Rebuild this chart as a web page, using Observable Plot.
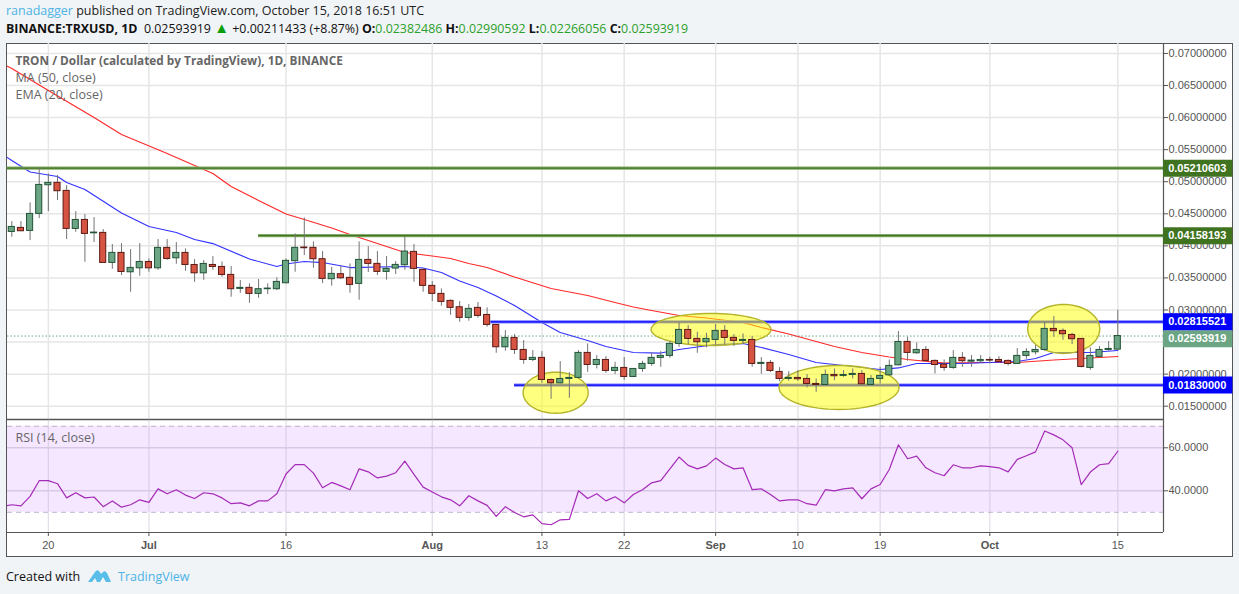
<!DOCTYPE html>
<html><head><meta charset="utf-8">
<script src="https://cdn.jsdelivr.net/npm/d3@7"></script>
<script src="https://cdn.jsdelivr.net/npm/@observablehq/plot@0.6"></script>
<style>
html,body{margin:0;padding:0;background:#f1f4f7;width:1239px;height:594px;overflow:hidden;font-family:"Open Sans",sans-serif;}
.abs{position:absolute;white-space:nowrap;}
#frame{position:absolute;left:6px;top:43px;width:1225px;height:512px;background:#fff;border:1px solid #555;}
#price,#rsi{position:absolute;left:6px;}
#price{top:43px}#rsi{top:419px}
svg{display:block}
b{font-weight:700}
.g{color:#2ca02c}
</style></head><body>
<div id="frame"></div><div id="price"></div><div id="rsi"></div>
<div class="abs" style="left:6px;top:2px;font-size:12.5px;color:#222;"><span style="color:#4bb3e6">ranadagger</span> published on TradingView.com, October 15, 2018 16:51 UTC</div>
<div class="abs" style="left:6px;top:20px;font-size:12.4px;color:#111"><b>BINANCE:TRXUSD, 1D</b>&nbsp; 0.02593919 <span style="color:#0a9f0a;font-size:15px;line-height:0">▲</span> +0.00211433 (+8.87%) <b>O:</b><span class="g">0.02382486</span> <b>H:</b><span class="g">0.02990592</span> <b>L:</b><span class="g">0.02266056</span> <b>C:</b><span class="g">0.02593919</span></div>
<div class="abs" style="left:6px;top:568px;font-size:12.5px;color:#111">Created with</div>
<svg class="abs" style="left:88px;top:568px" width="23" height="15" viewBox="0 0 23 15"><path d="M0 14 L7 4 Q9 1 11 3 L13 6 L15 4 Q17 2 19 5 L23 14 H18 L15 9 L12 14 H9 L7 10 L4 14 Z" fill="#58bde8"/></svg>
<div class="abs" style="left:118px;top:568px;font-size:12.5px;color:#4bb3e6">TradingView</div>
<script>
const startDate = "2018-06-16";
const priceUnit = 1e-5;
const opens = [4217,4280,4233,4498,4945,4982,4857,4264,4404,4196,4202,3734,3890,3588,3650,3749,3650,3968,3806,3890,3702,3572,3702,3671,3547,3329,3345,3251,3324,3324,3417,3761,3974,3969,3792,3480,3558,3501,3407,3781,3719,3594,3646,3698,3906,3625,3376,3251,3142,3043,2877,3033,2923,2767,2419,2565,2377,2221,2253,1909,1857,1925,1941,2331,2143,2221,2050,2097,1956,2081,2159,2253,2284,2471,2689,2549,2497,2533,2674,2565,2518,2533,2159,2175,2034,1925,1941,1925,1847,1831,1987,1972,1987,2003,1831,1925,1982,2138,2502,2325,2377,2206,2149,2097,2253,2195,2201,2221,2221,2206,2159,2284,2341,2377,2705,2674,2611,2549,2097,2268,2377,2382];
const closes = [4295,4228,4498,4950,4982,4852,4264,4404,4186,4207,3734,3890,3593,3656,3749,3650,3968,3796,3890,3702,3572,3718,3671,3546,3324,3345,3251,3324,3334,3438,3766,3969,3963,3792,3485,3563,3495,3391,3781,3719,3594,3641,3703,3911,3641,3376,3251,3126,3033,2877,3017,2908,2767,2419,2565,2377,2221,2253,1909,1857,1925,1941,2331,2143,2221,2050,2097,1956,2081,2159,2253,2284,2471,2689,2549,2497,2549,2674,2565,2518,2533,2159,2175,2050,1925,1941,1920,1847,1831,1987,1967,1987,2003,1842,1925,1972,2128,2502,2331,2377,2206,2143,2097,2253,2201,2211,2221,2211,2190,2159,2284,2346,2377,2705,2669,2622,2544,2112,2284,2377,2393,2594];
const highs = [4378,4378,4670,5216,5122,5096,4940,4534,4488,4441,4254,4020,4035,3942,4035,3796,4098,4098,4051,3952,3786,3770,3832,3749,3677,3459,3407,3475,3407,3501,3797,4187,4437,4062,3911,3662,3683,3719,4062,3989,3911,3833,3755,4145,4021,3641,3443,3329,3157,3131,3085,3116,3033,2767,2679,2617,2523,2367,2351,1925,2195,2024,2367,2471,2289,2273,2185,2258,2081,2201,2331,2351,2513,2799,2757,2653,2637,2773,2757,2617,2627,2585,2258,2211,2102,2039,2055,1993,1925,2065,2081,2055,2081,2055,1977,2107,2221,2663,2575,2487,2429,2221,2221,2367,2336,2289,2289,2263,2273,2221,2398,2398,2445,2804,2897,2705,2637,2549,2409,2429,2507,2996];
const lows = [4134,4220,4082,4425,4534,4706,4098,4212,3744,4051,3734,3635,3536,3276,3526,3588,3619,3775,3713,3604,3432,3463,3619,3510,3199,3261,3105,3183,3241,3303,3407,3589,3849,3651,3412,3371,3475,3261,3152,3584,3537,3464,3553,3620,3433,3277,3131,3059,2918,2809,2825,2871,2731,2325,2357,2305,2154,2195,1857,1608,1847,1623,1925,2029,2081,2013,1993,1904,1951,2029,2123,2107,2247,2419,2461,2325,2409,2461,2450,2429,2461,2107,1998,2024,1883,1889,1889,1785,1717,1826,1899,1951,1925,1837,1821,1847,1977,2128,2201,2310,2185,2003,2045,2076,2107,2107,2170,2159,2170,2128,2149,2232,2299,2357,2575,2528,2461,2097,2060,2253,2357,2378];
const rsiValues = [33.5,33.0,37.4,44.7,44.7,43.3,36.7,39.1,36.7,37.1,32.6,35.3,32.4,33.5,35.8,34.6,40.9,38.6,40.5,38.0,36.4,39.1,38.6,36.7,34.0,34.4,33.0,35.3,35.3,38.6,47.8,52.2,52.2,48.2,41.4,43.9,42.3,40.5,50.2,48.8,46.0,46.8,48.4,53.8,47.6,41.7,39.4,37.2,35.8,33.0,37.7,35.3,33.2,28.1,32.6,29.9,27.9,28.8,24.7,24.2,26.5,26.7,40.0,36.4,38.6,35.3,37.2,34.4,38.3,40.5,43.7,44.7,50.2,55.7,51.8,50.2,51.6,55.2,52.2,50.2,50.7,40.5,40.9,38.3,35.3,35.8,35.8,34.0,33.3,40.5,40.0,40.9,41.4,36.3,40.9,42.9,49.9,61.4,54.9,56.1,50.7,48.4,47.0,52.1,50.7,50.7,51.6,51.2,50.7,48.8,54.6,56.3,58.1,67.8,66.0,63.7,60.0,42.9,48.7,52.1,52.6,58.4];
const rsiBefore = 32.8;
const maSessions = [-1,0,4,9,12,17,22,24,27,30,32,35,37,40,43,46,48,50,52,55,59,63,66,68,70,73,76,80,82,85,90,93,96,98,102,106,110,114,117,121];
const maValues = [6835,6765,6422,6001,5736,5440,5128,4925,4707,4496,4411,4278,4177,4036,3896,3842,3803,3725,3662,3514,3335,3226,3117,3047,2992,2914,2875,2805,2727,2626,2431,2337,2267,2228,2173,2181,2181,2220,2244,2275];
const emaSessions = [-1,0,2,5,6,8,12,15,18,20,22,26,29,30,32,34,37,43,45,47,49,51,53,55,58,60,63,65,68,71,73,77,80,82,85,88,95,97,99,104,110,112,114,118,121];
const emaValues = [5424,5330,5151,5081,4987,4878,4512,4302,4208,4099,4036,3795,3678,3717,3756,3740,3662,3678,3655,3584,3452,3351,3218,3070,2805,2649,2524,2431,2337,2329,2384,2462,2477,2415,2306,2181,2072,2096,2166,2166,2197,2244,2337,2337,2368];
const priceTicks = [0.015,0.02,0.025,0.03,0.035,0.04,0.045,0.05,0.055,0.06,0.065,0.07];
const labelledTicks = [0.015,0.02,0.03,0.035,0.04,0.045,0.05,0.055,0.06,0.065,0.07];
const rsiTicks = [40,60];
const rsiBand = [30,70];
const dayTickDates = ["2018-06-20","2018-07-16","2018-08-13","2018-08-22","2018-09-10","2018-09-19","2018-10-15"];
const dayTickLabels = ["20","16","13","22","10","19","15"];
const monthTickDates = ["2018-07-01","2018-08-01","2018-09-01","2018-10-01"];
const monthTickLabels = ["Jul","Aug","Sep","Oct"];
const levelValues = [0.05210603,0.04158193,0.02815521,0.01830000];
const levelStarts = ["2018-06-15T12:00Z","2018-07-13T00:00Z","2018-08-07T10:00Z","2018-08-10T00:00Z"];
const levelColors = ["#3f7320","#3f7320","#0000ff","#0000ff"];
const levelHalos = ["#86ad68","#86ad68","#7c7cff","#7c7cff"];
const lastPrice = 0.02593919;
const ellipseDates = ["2018-08-14T12:00Z","2018-08-31T12:00Z","2018-09-14T12:00Z","2018-10-09T02:00Z"];
const ellipsePrices = [0.0171,0.02696,0.01792,0.02704];
const ellipseDays = [3.56,6.56,6.56,3.94];
const ellipseSpans = [0.0032,0.0025,0.00343,0.00382];

const DAY = 864e5, H = 36e5;
const sessionDate = i => new Date(+new Date(startDate) + i*DAY);
const xDomain = [new Date("2018-06-15T12:43Z"), new Date("2018-10-20T00:00Z")];
const gutterEnd = new Date(+xDomain[1] + 7.59*DAY);
const gutterMid = new Date(+xDomain[1] + 3.8*DAY);
const FONT = '"Liberation Sans",Arial,sans-serif';
const allTicks = dayTickDates.concat(monthTickDates).map(d=>new Date(d));
const candles = opens.map((o,i)=>({date:sessionDate(i),open:o*priceUnit,close:closes[i]*priceUnit,high:highs[i]*priceUnit,low:lows[i]*priceUnit,up:closes[i]>=o}));
const maRows = maSessions.map((s,i)=>({date:sessionDate(s),v:maValues[i]*priceUnit}));
const emaRows = emaSessions.map((s,i)=>({date:sessionDate(s),v:emaValues[i]*priceUnit}));
const ellipses = ellipseDates.map((d,k)=>d3.range(0,73).map(a=>({k,
  date:new Date(+new Date(d)+ellipseDays[k]*DAY*Math.cos(a*Math.PI/36)),
  v:ellipsePrices[k]+ellipseSpans[k]*Math.sin(a*Math.PI/36)})));
const W = 1227;
const fix8 = d=>d.toFixed(8);

function labelBox(v,bg,dy,fg){
  return [
    Plot.ruleY([v],{x1:xDomain[1],x2:gutterEnd,stroke:bg,strokeWidth:17,dy}),
    Plot.text([v],{x:gutterMid,y:d=>d,text:fix8,fill:fg||"#fff",fontWeight:"bold",fontSize:11,dy,dx:-1})
  ];
}
const pricePlot = Plot.plot({
  width:W,height:376,marginLeft:1,marginRight:70,marginTop:0,marginBottom:0,
  style:{background:"transparent",fontFamily:FONT,overflow:"visible"},
  x:{type:"utc",domain:xDomain,axis:null},
  y:{domain:[0.012926,0.07155],label:null},
  marks:[
    Plot.ruleX(allTicks,{stroke:"#e6e6e6",strokeWidth:1.5}),
    Plot.ruleY(priceTicks,{stroke:"#e6e6e6",strokeWidth:1.5}),
    Plot.axisY({anchor:"right",ticks:labelledTicks,tickFormat:fix8,tickSize:4,tickPadding:1,fontSize:11,color:"#555",label:null}),
    Plot.ruleY([lastPrice],{stroke:"#6ba583",strokeWidth:1,strokeDasharray:"1.5,2"}),
    Plot.line(maRows,{x:"date",y:"v",stroke:"#ff2a2a",strokeWidth:1.2,clip:true}),
    Plot.line(emaRows,{x:"date",y:"v",stroke:"#3333ff",strokeWidth:1.2,clip:true}),
    levelValues.map((v,i)=>[
      Plot.ruleY([v],{x1:new Date(levelStarts[i]),x2:xDomain[1],stroke:levelHalos[i],strokeWidth:3.2}),
      Plot.ruleY([v],{x1:new Date(levelStarts[i]),x2:xDomain[1],stroke:levelColors[i],strokeWidth:1.2})
    ]),
    ellipses.map(e=>Plot.line(e,{x:"date",y:"v",fill:"#ffff00",fillOpacity:0.5,stroke:"#b4b42a",strokeWidth:1.4})),
    Plot.ruleX(candles,{x:"date",y1:"low",y2:"high",stroke:"#737375",strokeWidth:1}),
    Plot.rect(candles,{x1:d=>new Date(+d.date-8*H),x2:d=>new Date(+d.date+8*H),
      y1:d=>Math.min(d.open,d.close),y2:d=>Math.max(d.open,d.close),
      fill:d=>d.up?"#6ba583":"#d75442",stroke:d=>d.up?"#225437":"#5b1a13",strokeWidth:1}),
    Plot.ruleX([xDomain[1]],{stroke:"#555",strokeWidth:1.2}),
    Plot.ruleY([0.012926],{stroke:"#555",strokeWidth:1.5}),
    labelBox(levelValues[0],levelColors[0],0),
    labelBox(levelValues[1],levelColors[1],0),
    labelBox(lastPrice,"#6ba583",2.7),
    labelBox(levelValues[2],levelColors[2],0),
    labelBox(levelValues[3],levelColors[3],0),
    Plot.text(["TRON / Dollar (calculated by TradingView), 1D, BINANCE"],{frameAnchor:"top-left",dx:8,dy:13,fontSize:11.8,fontWeight:"bold",fill:"#666",fontFamily:'"Open Sans",sans-serif'}),
    Plot.text(["MA (50, close)"],{frameAnchor:"top-left",dx:8,dy:30,fontSize:12.5,fill:"#666",fontFamily:'"Open Sans",sans-serif'}),
    Plot.text(["EMA (20, close)"],{frameAnchor:"top-left",dx:8,dy:47,fontSize:12.5,fill:"#666",fontFamily:'"Open Sans",sans-serif'})
  ]
});
document.getElementById("price").append(pricePlot);

const rsiRows = [{date:sessionDate(-1),v:rsiBefore}].concat(rsiValues.map((v,i)=>({date:sessionDate(i),v})));
const lookup = (ds,ls)=>d=>ls[ds.findIndex(s=>+new Date(s)===+d)];
const rsiPlot = Plot.plot({
  width:W,height:138,marginLeft:1,marginRight:70,marginTop:0,marginBottom:25,
  style:{background:"transparent",fontFamily:FONT,overflow:"visible"},
  x:{type:"utc",domain:xDomain,label:null},
  y:{domain:[20.6,73.16],label:null},
  marks:[
    Plot.rectY([0],{x1:xDomain[0],x2:xDomain[1],y1:rsiBand[0],y2:rsiBand[1],fill:"#9915ff",fillOpacity:0.1}),
    Plot.ruleX(allTicks,{stroke:"#b9a8c8",strokeOpacity:.4,strokeWidth:1.2}),
    Plot.ruleY(rsiTicks,{stroke:"#d8c8e8",strokeWidth:1.4}),
    Plot.ruleY(rsiBand,{stroke:"#c0b0cc",strokeWidth:1,strokeDasharray:"5,4"}),
    Plot.line(rsiRows,{x:"date",y:"v",stroke:"#a52ab8",strokeWidth:1.2,clip:true}),
    Plot.axisY({anchor:"right",ticks:rsiTicks,tickFormat:d=>d.toFixed(4),tickSize:4,tickPadding:1,fontSize:11,color:"#555",label:null}),
    Plot.axisX({ticks:dayTickDates.map(d=>new Date(d)),tickFormat:lookup(dayTickDates,dayTickLabels),tickSize:4,tickPadding:5,fontSize:11,color:"#555",label:null}),
    Plot.axisX({ticks:monthTickDates.map(d=>new Date(d)),tickFormat:lookup(monthTickDates,monthTickLabels),tickSize:4,tickPadding:5,fontSize:11,fontWeight:"bold",color:"#555",label:null}),
    Plot.ruleX([xDomain[1]],{stroke:"#555",strokeWidth:1.2}),
    Plot.ruleY([20.6],{stroke:"#555",strokeWidth:1.2}),
    Plot.text(["RSI (14, close)"],{frameAnchor:"top-left",dx:8,dy:14,fontSize:12.5,fill:"#666",fontFamily:'"Open Sans",sans-serif'})
  ]
});
document.getElementById("rsi").append(rsiPlot);
</script>
</body></html>
